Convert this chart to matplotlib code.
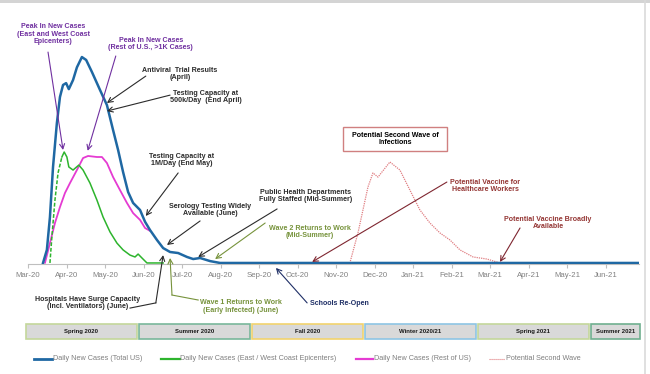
import matplotlib
matplotlib.use("Agg")
import matplotlib.pyplot as plt
from matplotlib.patches import Rectangle
from matplotlib.lines import Line2D

plt.rcParams['font.family'] = ['Liberation Sans Narrow', 'Liberation Sans', 'DejaVu Sans']

# ---------------- data (x = months since Mar-2020) ----------------
months = ['Mar-20', 'Apr-20', 'May-20', 'Jun-20', 'Jul-20', 'Aug-20', 'Sep-20', 'Oct-20',
          'Nov-20', 'Dec-20', 'Jan-21', 'Feb-21', 'Mar-21', 'Apr-21', 'May-21', 'Jun-21']

total_x = [0.39, 0.49, 0.57, 0.65, 0.75, 0.83, 0.91, 0.99, 1.06, 1.17, 1.27, 1.40, 1.51,
           1.66, 1.87, 2.05, 2.21, 2.34, 2.47, 2.60, 2.73, 2.91, 3.04, 3.17, 3.35, 3.51,
           3.69, 3.90, 4.13, 4.29, 4.47, 4.73, 4.99, 5.25, 8.0, 12.0, 15.87]
total_v = [0.5, 6.8, 22.7, 46.9, 68.1, 80.7, 86.5, 87.4, 84.5, 88.9, 95.0, 100, 98.6,
           92.8, 84.1, 76.8, 64.7, 55.1, 44.4, 34.8, 29.5, 26.1, 20.4, 16.4, 11.6, 7.7,
           5.8, 5.3, 3.4, 2.4, 2.9, 1.4, 0.5, 0.5, 0.5, 0.5, 0.5]

east_x = [0.57, 0.62, 0.70, 0.78, 0.88, 0.94, 1.01, 1.06, 1.17, 1.32, 1.43, 1.61, 1.79,
          1.95, 2.13, 2.31, 2.47, 2.65, 2.78, 2.86, 2.96, 3.09, 3.51]
east_v = [0.5, 13, 30.9, 44, 51.7, 54.1, 51.7, 46.9, 45.4, 47.8, 45.4, 39.1, 30.9,
          22.7, 15.5, 10.1, 6.8, 4.3, 3.4, 4.8, 2.9, 0.5, 0.5]

rest_x = [0.44, 0.57, 0.70, 0.83, 0.96, 1.09, 1.27, 1.43, 1.56, 1.79, 1.92, 2.05, 2.21,
          2.39, 2.57, 2.73, 2.91, 3.04, 3.17]
rest_v = [0.5, 10.1, 19.8, 27.5, 34.3, 39.1, 45.4, 51.2, 52.2, 51.7, 51.7, 48.8, 42,
          35.7, 29.5, 24.6, 21.3, 17.4, 16.0]

wave2_x = [8.0, 8.36, 8.57, 8.83, 8.96, 9.09, 9.40, 9.66, 9.92, 10.18, 10.44, 10.70,
           10.96, 11.22, 11.56, 11.92, 12.26, 12.60]
wave2_v = [0.5, 0.5, 15, 37.2, 44, 42, 49.3, 45.4, 35.7, 26.1, 19.8, 15, 11.6, 6.8,
           3.4, 2.4, 0.5, 0.5]

seasons = ['Spring 2020', 'Summer 2020', 'Fall 2020', 'Winter 2020/21', 'Spring 2021', 'Summer 2021']
season_edges = ['#C4D79B', '#79B79B', '#F2D36E', '#8EC5E4', '#C4D79B', '#6FAF8F']

legend_labels = ['Daily New Cases (Total US)', 'Daily New Cases (East / West Coast Epicenters)',
                 'Daily New Cases (Rest of US)', 'Potential Second Wave']

BLUE = '#1F68A3'
GREEN = '#2DB42D'
PINK = '#E53BD2'
DOT = '#E07F82'
PURPLE = '#7030A0'
DARK = '#2B2B2B'
OLIVE = '#77933C'
DRED = '#953735'
NAVY = '#1F2F66'

# ---------------- figure ----------------
W, H = 650, 374
fig = plt.figure(figsize=(W / 100, H / 100), dpi=100)
fig.patch.set_facecolor('white')
ax = fig.add_axes([28 / W, 110 / H, 611 / W, 244 / H])
ax.set_xlim(0, 15.87)
ax.set_ylim(0, 117.9)

ax.plot(rest_x, rest_v, color=PINK, lw=1.3, solid_capstyle='round', zorder=3)
ax.plot(east_x[:5], east_v[:5], color=GREEN, lw=1.1, ls=(0, (2.5, 1.2)), zorder=3)
ax.plot(east_x[4:], east_v[4:], color=GREEN, lw=1.1, zorder=3)
ax.plot(wave2_x, wave2_v, color=DOT, lw=0.9, ls=(0, (1, 0.8)), zorder=3)
ax.plot(total_x, total_v, color=BLUE, lw=1.8, zorder=4)

for s in ['top', 'right', 'left']:
    ax.spines[s].set_visible(False)
ax.spines['bottom'].set_color('#BFBFBF')
ax.spines['bottom'].set_linewidth(0.8)
ax.set_yticks([])
ax.set_xticks(range(len(months)))
ax.set_xticklabels(months)
ax.tick_params(axis='x', colors='#BFBFBF', length=3, width=0.8, labelcolor='#808080',
               labelsize=5.6, pad=3)

tkw = dict(ha='center', va='center', fontsize=5.1, fontweight='bold', linespacing=1.15,
           zorder=6)


def arrow(tip, tail, color):
    ax.annotate('', xy=tip, xytext=tail, annotation_clip=False,
                arrowprops=dict(arrowstyle='->,head_length=0.35,head_width=0.18',
                                color=color, lw=0.8, shrinkA=0, shrinkB=0), zorder=6)


def poly(xs, ys, color):
    ax.add_line(Line2D(xs, ys, color=color, lw=0.8, clip_on=False, zorder=6))


# annotations (month index, value)
ax.text(0.65, 111.1, 'Peak In New Cases\n(East and West Coast\nEpicenters)', color=PURPLE, **tkw)
arrow((0.91, 55.1), (0.52, 102.4), PURPLE)
ax.text(3.19, 106.3, 'Peak In New Cases\n(Rest of U.S., >1K Cases)', color=PURPLE, **tkw)
arrow((1.55, 54.7), (2.28, 100.5), PURPLE)

ax.text(3.95, 91.8, 'Antiviral  Trial Results\n(April)', color=DARK, **tkw)
arrow((2.05, 77.8), (3.06, 90.8), DARK)
ax.text(4.62, 80.7, 'Testing Capacity at\n500k/Day  (End April)', color=DARK, **tkw)
arrow((2.05, 73.9), (3.69, 81.6), DARK)
ax.text(4.0, 50.2, 'Testing Capacity at\n1M/Day (End May)', color=DARK, **tkw)
arrow((3.06, 23.2), (3.90, 44.0), DARK)
ax.text(4.73, 26.1, 'Serology Testing Widely\nAvailable (June)', color=DARK, **tkw)
arrow((3.61, 9.2), (4.47, 20.8), DARK)
ax.text(7.22, 32.9, 'Public Health Departments\nFully Staffed (Mid-Summer)', color=DARK, **tkw)
arrow((4.42, 3.4), (6.47, 26.6), DARK)
ax.text(7.32, 15.5, 'Wave 2 Returns to Work\n(Mid-Summer)', color=OLIVE, **tkw)
arrow((4.86, 2.4), (6.16, 19.8), OLIVE)

ax.add_patch(Rectangle((8.18, 54.6), 2.70, 11.6, facecolor='white', edgecolor='#D08080',
                       lw=1.0, zorder=5))
ax.text(9.53, 60.4, 'Potential Second Wave of\nInfections', color='black', **tkw)

ax.text(11.87, 37.7, 'Potential Vaccine for\nHealthcare Workers', color=DRED, **tkw)
arrow((7.38, 1.0), (10.88, 39.6), '#7F2630')
ax.text(13.51, 19.8, 'Potential Vaccine Broadly\nAvailable', color=DRED, **tkw)
arrow((12.26, 1.0), (12.78, 17.4), '#7F2630')

ax.text(1.56, -18.8, 'Hospitals Have Surge Capacity\n(Incl. Ventilators) (June)', color=DARK, **tkw)
poly([2.65, 3.32], [-21.3, -18.8], DARK)
arrow((3.51, 4.3), (3.32, -18.8), DARK)
ax.text(5.53, -20.5, 'Wave 1 Returns to Work\n(Early Infected) (June)', color=OLIVE, **tkw)
poly([4.42, 3.74], [-17.4, -15.0], OLIVE)
arrow((3.69, 2.9), (3.74, -15.0), OLIVE)
ax.text(8.10, -19.3, 'Schools Re-Open', color=NAVY, **tkw)
arrow((6.44, -1.9), (7.25, -18.8), NAVY)

# season strip
for i, (name, ec) in enumerate(zip(seasons, season_edges)):
    left = 26 + 113 * i
    right = min(left + 111, 640)
    fig.patches.append(Rectangle((left / W, 35 / H), (right - left) / W, 15 / H,
                                 transform=fig.transFigure, facecolor='#D9D9D9',
                                 edgecolor=ec, lw=1.2))
    fig.text((left + right) / 2 / W, 42.5 / H, name, ha='center', va='center',
             fontsize=4.3, fontweight='bold', color='#1A1A1A')

# legend
ly = (H - 359) / H
leg_pos = [(34, 52, 53), (161, 180, 180), (356, 373, 374), (489, 505, 506)]
leg_style = [dict(color=BLUE, lw=2.0), dict(color=GREEN, lw=1.6), dict(color=PINK, lw=1.6),
             dict(color=DOT, lw=0.8, ls=(0, (1, 0.8)))]
for (a, b, t), st, lab in zip(leg_pos, leg_style, legend_labels):
    fig.add_artist(Line2D([a / W, b / W], [ly, ly], transform=fig.transFigure, **st))
    fig.text(t / W, ly, lab, ha='left', va='center', fontsize=5.2, color='#7F7F7F')

# frame artefacts of the screenshot
fig.patches.append(Rectangle((0, 1 - 3 / H), 1, 3 / H, transform=fig.transFigure,
                             facecolor='#D4D4D4', edgecolor='none'))
fig.add_artist(Line2D([645 / W, 645 / W], [0, 1], transform=fig.transFigure,
                      color='#DADADA', lw=1.2))

fig.savefig('out.png', dpi=100, facecolor='white')
